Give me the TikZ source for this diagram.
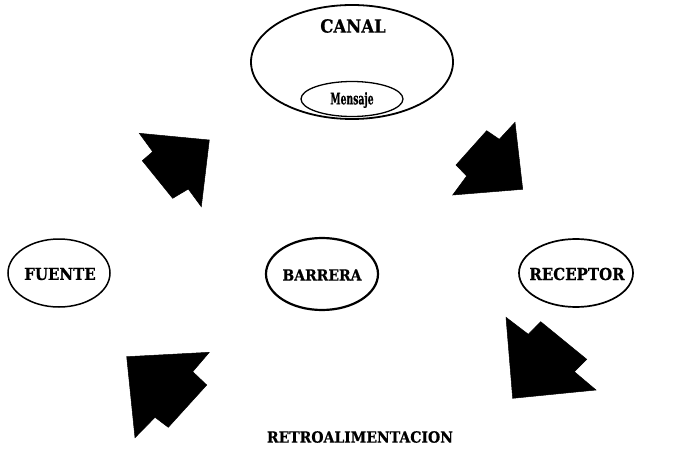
\documentclass[tikz,border=0pt]{standalone}
\usepackage{fontspec}
\usepackage{graphicx}
\setmainfont{DejaVu Serif}[BoldFeatures={FakeBold=0.7}]
\usetikzlibrary{shapes.geometric}
\newcommand{\tallbox}[1]{\scalebox{1}[1.1]{#1}}
\tikzset{
  oval/.style={ellipse, draw=black, line width=1.6pt, inner sep=0pt},
  lbl/.style={font=\fontsize{15}{17}\selectfont\bfseries, inner sep=0pt},
  blk/.style={fill=black, draw=black, line width=0.5pt, line join=miter}
}
\begin{document}
\begin{tikzpicture}[x=1pt, y=-1pt]
\useasboundingbox[fill=white] (0,0) rectangle (688,460);
% CANAL with Mensaje
\node[oval, minimum width=202pt, minimum height=114pt, line width=1.8pt] (canal) at (352,62) {};
\node[lbl, font=\fontsize{16.5}{18}\selectfont\bfseries] (canaltxt) at (353,26) {\tallbox{CANAL}};
\node[oval, minimum width=102pt, minimum height=35pt, line width=1.3pt] (mensaje) at (352,99) {};
\node[inner sep=0pt] (mensajetxt) at (352,100)
  {\scalebox{0.66}[1.15]{\fontsize{14}{16}\selectfont\bfseries Mensaje}};
% Main ovals
\node[oval, minimum width=102pt, minimum height=68pt, line width=1.5pt] (fuente) at (59,273) {};
\node[lbl] (fuentetxt) at (60,274) {\tallbox{FUENTE}};
\node[oval, minimum width=112pt, minimum height=72pt, line width=2.2pt] (barrera) at (322,274) {};
\node[lbl, font=\fontsize{14}{16}\selectfont\bfseries] (barreratxt) at (322,275) {\tallbox{BARRERA}};
\node[oval, minimum width=114pt, minimum height=68pt, line width=1.7pt] (receptor) at (576,273) {};
\node[lbl] (receptortxt) at (577,274) {\tallbox{RECEPTOR}};
% Feedback label
\node[lbl, font=\fontsize{14}{16}\selectfont\bfseries] (retro) at (360,437) {\tallbox{RETROALIMENTACION}};
% Block arrows
\fill[blk] (139.3,133.3) -- (209.3,140) -- (201.3,206.7) -- (188.3,189) -- (172.7,198.3) -- (142.3,160.7) -- (152.7,151.7) -- cycle;
\fill[blk] (515,122.3) -- (522.7,189.3) -- (452.7,195) -- (466.7,176) -- (456,165) -- (486.7,130.7) -- (499.3,139.3) -- cycle;
\fill[blk] (126.7,356.7) -- (209.3,352.3) -- (192.7,371.7) -- (206.7,385) -- (168.3,427.3) -- (155,417.3) -- (135,437.7) -- cycle;
\fill[blk] (506,317.3) -- (528.3,334.3) -- (540.7,321.7) -- (586.7,359.3) -- (574.3,371.7) -- (596,390) -- (512.7,398.3) -- cycle;
\end{tikzpicture}
\end{document}
